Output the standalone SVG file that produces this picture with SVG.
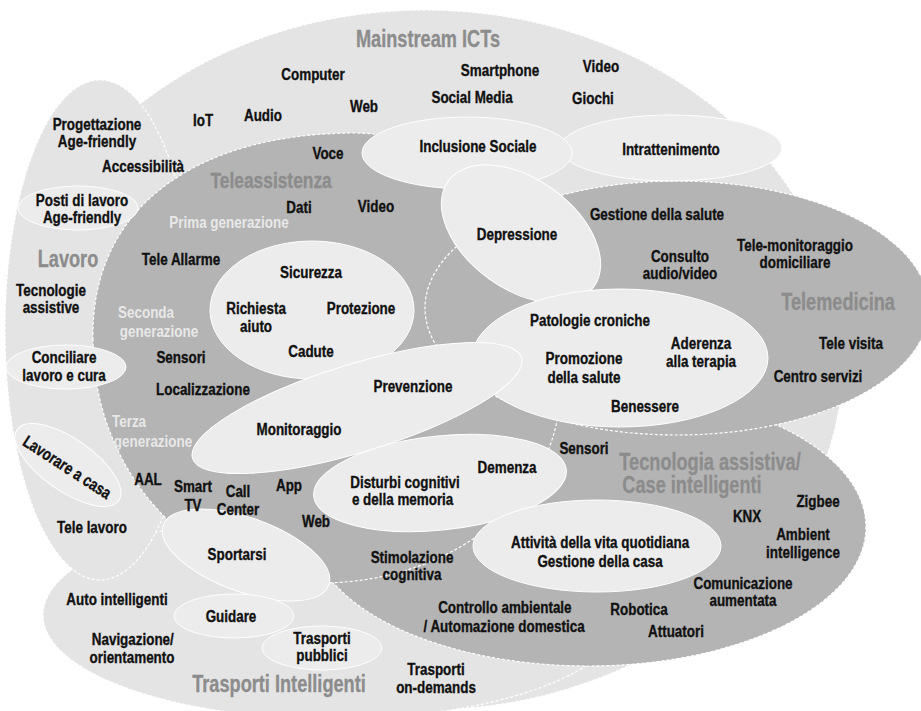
<svg xmlns="http://www.w3.org/2000/svg" width="921" height="711" viewBox="0 0 921 711">
<style>
.lt{fill:#e4e4e4;stroke:#fff;stroke-width:1.2;stroke-dasharray:3 2}
.md{fill:#b4b4b4;stroke:#fff;stroke-width:1.2;stroke-dasharray:3 2}
.el{fill:#ececec;stroke:#fff;stroke-width:1}
text{font-family:"Liberation Sans",Arial,sans-serif;font-weight:bold;text-anchor:middle}
.t,.r,.g{transform-box:fill-box;transform-origin:center;transform:scaleX(0.79)}
.t{font-size:17px;fill:#111;stroke:#111;stroke-width:0.35}
.r{font-size:23px;fill:#8c8c8c;stroke:#8c8c8c;stroke-width:0.3}
.g{font-size:17px;fill:#e8e8e8}
.tr{font-size:17px;fill:#111;stroke:#111;stroke-width:0.35}
</style>
<rect width="921" height="711" fill="#fff"/>
<g id="regions">
<g id="mainstream"><ellipse class="lt" cx="425" cy="360" rx="418" ry="350"/></g>
<g id="trasporti"><ellipse class="lt" cx="333" cy="615" rx="290" ry="104"/></g>
<g id="lavoro"><ellipse class="lt" cx="100" cy="330" rx="95" ry="250"/></g>
<g id="tecnologia"><ellipse class="md" cx="588" cy="527" rx="278" ry="139"/></g>
<g id="teleassistenza"><path class="md" d="M93,340 C90,205 200,133 355,133 C468,133 560,248 560,390 C560,497 453,583 320,583 C195,583 93,474 93,340 Z"/></g>
<g id="telemedicina"><ellipse class="md" cx="677" cy="308" rx="252" ry="127"/></g>
</g>
<g id="connectors"></g>
<g id="n-posti"><ellipse class="el" cx="78" cy="208" rx="60" ry="22"/><text class="t"><tspan x="82" y="206">Posti di lavoro</tspan><tspan x="82" y="223">Age-friendly</tspan></text></g>
<g id="n-conciliare"><ellipse class="el" cx="66" cy="367" rx="60" ry="22"/><text class="t"><tspan x="64" y="363">Conciliare</tspan><tspan x="64" y="381">lavoro e cura</tspan></text></g>
<g id="n-casa"><ellipse class="el" cx="68" cy="465" rx="62" ry="26" transform="rotate(35 68 465)"/><text class="tr" transform="translate(64,472) rotate(33) scale(0.79,1)">Lavorare a casa</text></g>
<g id="n-intrattenimento"><ellipse class="el" cx="671" cy="148" rx="111" ry="33"/><text class="t" x="671" y="155">Intrattenimento</text></g>
<g id="n-inclusione"><ellipse class="el" cx="467" cy="153" rx="105" ry="36"/><text class="t" x="478" y="152">Inclusione Sociale</text></g>
<g id="n-depressione"><ellipse class="el" cx="521" cy="234" rx="90" ry="55" transform="rotate(36 521 234)"/><text class="t" x="517" y="240">Depressione</text></g>
<g id="n-sicurezza"><ellipse class="el" cx="312" cy="310" rx="102" ry="69"/><text class="t" x="311" y="278">Sicurezza</text><text class="t"><tspan x="256" y="314">Richiesta</tspan><tspan x="256" y="332">aiuto</tspan></text><text class="t" x="361" y="314">Protezione</text><text class="t" x="311" y="357">Cadute</text></g>
<g id="n-patologie"><ellipse class="el" cx="620" cy="358" rx="148" ry="69"/><text class="t" x="590" y="326">Patologie croniche</text><text class="t"><tspan x="701" y="349">Aderenza</tspan><tspan x="701" y="367">alla terapia</tspan></text><text class="t"><tspan x="584" y="364">Promozione</tspan><tspan x="584" y="383">della salute</tspan></text><text class="t" x="645" y="412">Benessere</text></g>
<g id="n-disturbi"><ellipse class="el" cx="440" cy="483" rx="127" ry="47" transform="rotate(-6 440 483)"/><text class="t"><tspan x="405" y="488">Disturbi cognitivi</tspan><tspan x="402" y="505">e della memoria</tspan></text><text class="t" x="507" y="473">Demenza</text></g>
<g id="n-prevenzione"><ellipse class="el" cx="357" cy="408" rx="172" ry="44" transform="rotate(-17 357 408)"/><text class="t" x="413" y="392">Prevenzione</text><text class="t" x="299" y="435">Monitoraggio</text></g>
<g id="n-attivita"><ellipse class="el" cx="597" cy="546" rx="124" ry="46"/><text class="t"><tspan x="600" y="548">Attività della vita quotidiana</tspan><tspan x="600" y="567">Gestione della casa</tspan></text></g>
<g id="n-sportarsi"><ellipse class="el" cx="246" cy="555" rx="88" ry="37" transform="rotate(20 246 555)"/><text class="t" x="237" y="560">Sportarsi</text></g>
<g id="n-guidare"><ellipse class="el" cx="234" cy="616" rx="60" ry="22"/><text class="t" x="231" y="622">Guidare</text></g>
<g id="n-pubblici"><ellipse class="el" cx="322" cy="648" rx="60" ry="22"/><text class="t"><tspan x="322" y="644">Trasporti</tspan><tspan x="322" y="661">pubblici</tspan></text></g>
<g id="mainstream-labels">
<text class="r" x="428" y="47">Mainstream ICTs</text>
<text class="t" x="313" y="80">Computer</text>
<text class="t" x="364" y="112">Web</text>
<text class="t" x="203" y="126">IoT</text>
<text class="t" x="263" y="121">Audio</text>
<text class="t" x="500" y="76">Smartphone</text>
<text class="t" x="601" y="72">Video</text>
<text class="t" x="472" y="103">Social Media</text>
<text class="t" x="593" y="104">Giochi</text>
</g>
<g id="lavoro-labels">
<text class="t"><tspan x="97" y="130">Progettazione</tspan><tspan x="97" y="147">Age-friendly</tspan></text>
<text class="t" x="143" y="172">Accessibilità</text>
<text class="r" x="68" y="267">Lavoro</text>
<text class="t"><tspan x="51" y="296">Tecnologie</tspan><tspan x="51" y="313">assistive</tspan></text>
<text class="t" x="92" y="533">Tele lavoro</text>
</g>
<g id="teleassistenza-labels">
<text class="t" x="328" y="159">Voce</text>
<text class="r" x="271" y="188" style="font-size:22px">Teleassistenza</text>
<text class="t" x="299" y="213">Dati</text>
<text class="t" x="376" y="212">Video</text>
<text class="g" x="229" y="228">Prima generazione</text>
<text class="t" x="181" y="265">Tele Allarme</text>
<text class="g" x="146" y="318">Seconda</text>
<text class="g" x="159" y="337">generazione</text>
<text class="t" x="181" y="363">Sensori</text>
<text class="t" x="203" y="395">Localizzazione</text>
<text class="g" x="129" y="427">Terza</text>
<text class="g" x="153" y="447">generazione</text>
<text class="t" x="148" y="485">AAL</text>
<text class="t"><tspan x="193" y="492">Smart</tspan><tspan x="193" y="511">TV</tspan></text>
<text class="t"><tspan x="238" y="497">Call</tspan><tspan x="238" y="515">Center</tspan></text>
<text class="t" x="289" y="491">App</text>
<text class="t" x="316" y="527">Web</text>
<text class="t"><tspan x="412" y="563">Stimolazione</tspan><tspan x="412" y="580">cognitiva</tspan></text>
</g>
<g id="telemedicina-labels">
<text class="t" x="657" y="220">Gestione della salute</text>
<text class="t"><tspan x="680" y="262">Consulto</tspan><tspan x="680" y="279">audio/video</tspan></text>
<text class="t"><tspan x="795" y="251">Tele-monitoraggio</tspan><tspan x="795" y="268">domiciliare</tspan></text>
<text class="r" x="838" y="310">Telemedicina</text>
<text class="t" x="851" y="349">Tele visita</text>
<text class="t" x="818" y="382">Centro servizi</text>
</g>
<g id="tecnologia-labels">
<text class="t" x="584" y="454">Sensori</text>
<text class="r" x="710" y="470">Tecnologia assistiva/</text>
<text class="r" x="692" y="493">Case intelligenti</text>
<text class="t" x="818" y="507">Zigbee</text>
<text class="t" x="747" y="522">KNX</text>
<text class="t"><tspan x="803" y="540">Ambient</tspan><tspan x="803" y="558">intelligence</tspan></text>
<text class="t"><tspan x="743" y="589">Comunicazione</tspan><tspan x="743" y="606">aumentata</tspan></text>
<text class="t" x="639" y="615">Robotica</text>
<text class="t" x="676" y="637">Attuatori</text>
<text class="t"><tspan x="505" y="613">Controllo ambientale</tspan><tspan x="504" y="632">/ Automazione domestica</tspan></text>
</g>
<g id="trasporti-labels">
<text class="t" x="117" y="605">Auto intelligenti</text>
<text class="t"><tspan x="133" y="645">Navigazione/</tspan><tspan x="132" y="663">orientamento</tspan></text>
<text class="r" x="279" y="692">Trasporti Intelligenti</text>
<text class="t"><tspan x="436" y="675">Trasporti</tspan><tspan x="436" y="693">on-demands</tspan></text>
</g>
</svg>
